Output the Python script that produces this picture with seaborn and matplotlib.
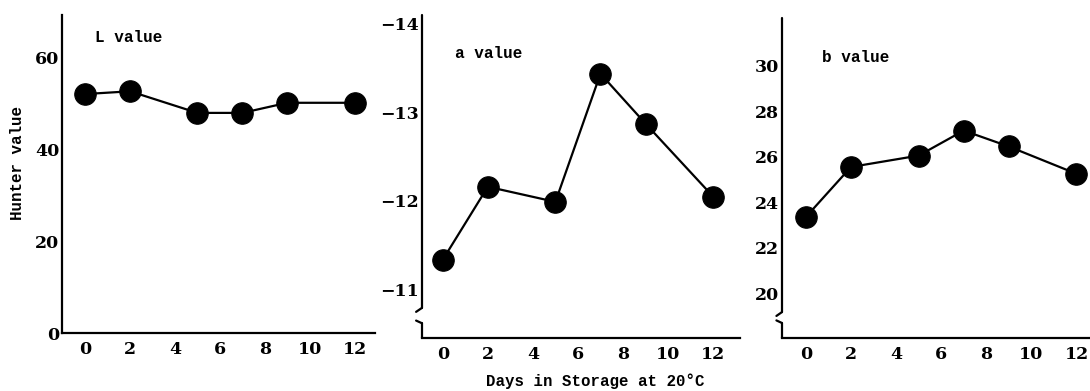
import matplotlib
matplotlib.use("Agg")
import matplotlib.pyplot as plt
import seaborn as sns
import pandas as pd

days = [0, 2, 5, 7, 9, 12]
L_values = [52.0, 52.6, 47.9, 47.9, 50.1, 50.1]
a_values = [-11.34, -12.16, -11.99, -13.43, -12.87, -12.05]
b_values = [23.35, 25.55, 26.05, 27.15, 26.45, 25.25]

x_ticks = [0, 2, 4, 6, 8, 10, 12]
L_ticks = [0, 20, 40, 60]
a_ticks = [-14, -13, -12, -11]
b_ticks = [20, 22, 24, 26, 28, 30]

sns.set_theme(style="white")
plt.rcParams['font.family'] = ['Liberation Mono', 'DejaVu Sans Mono', 'DejaVu Sans']
plt.rcParams['axes.unicode_minus'] = True
plt.rcParams['text.color'] = 'black'

fig = plt.figure(figsize=(10.9, 3.91), dpi=100)
ax1 = fig.add_axes([0.0569, 0.1483, 0.287, 0.8133])
ax2 = fig.add_axes([0.387, 0.1355, 0.292, 0.8261])
ax3 = fig.add_axes([0.7174, 0.1355, 0.2826, 0.8185])

line_kw = dict(color="black", marker="o", markersize=15.5, linewidth=1.6,
               markeredgecolor="black", markerfacecolor="black")

panels = [
    (ax1, L_values, L_ticks, (0, 69.2), (-1.03, 12.9), "L value", (0.105, 0.93)),
    (ax2, a_values, a_ticks, (-10.46, -14.09), (-0.93, 13.2), "a value", (0.104, 0.88)),
    (ax3, b_values, b_ticks, (18.03, 32.1), (-1.06, 12.6), "b value", (0.13, 0.875)),
]

for ax, vals, yt, ylim, xlim, title, tpos in panels:
    df = pd.DataFrame({"day": days, "val": vals})
    sns.lineplot(data=df, x="day", y="val", ax=ax, **line_kw)
    ax.set_xlim(*xlim)
    ax.set_ylim(*ylim)
    ax.set_xticks(x_ticks)
    ax.set_yticks(yt)
    ax.set_xlabel("")
    ax.set_ylabel("")
    ax.set_facecolor("white")
    for s in ["top", "right"]:
        ax.spines[s].set_visible(False)
    for s in ["left", "bottom"]:
        ax.spines[s].set_color("black")
        ax.spines[s].set_linewidth(1.6)
    ax.tick_params(axis="both", direction="in", length=4, width=1.2,
                   colors="black", labelsize=12.5, pad=6)
    ax.tick_params(axis="y", pad=2)
    for lab in ax.get_xticklabels() + ax.get_yticklabels():
        lab.set_fontweight("bold")
        lab.set_family(['DejaVu Serif', 'DejaVu Sans'])
    ax.text(tpos[0], tpos[1], title, transform=ax.transAxes, fontsize=11.5,
            fontweight="bold", ha="left", va="center", color="black")

# broken y-axes for panels 2 and 3
for ax, up_end, low_start in [(ax2, 0.093, 0.046), (ax3, 0.081, 0.047)]:
    ax.spines["left"].set_visible(False)
    kw = dict(transform=ax.transAxes, color="black", linewidth=1.6, clip_on=False)
    ax.plot([0, 0], [up_end, 1.0], **kw)
    ax.plot([0, 0], [0, low_start], **kw)
    ax.plot([-0.018, 0.0], [up_end - 0.012, up_end], **kw)
    ax.plot([-0.018, 0.0], [low_start + 0.008, low_start], **kw)

fig.text(18 / 1090, 1 - 163 / 391, "Hunter value", rotation=90, ha="center",
         va="center", fontsize=11.4, fontweight="bold", color="black")
fig.text(0.546, 0.026, "Days in Storage at 20°C", ha="center", va="center",
         fontsize=11.3, fontweight="bold", color="black")

fig.savefig("out.png", dpi=100, facecolor="white")
